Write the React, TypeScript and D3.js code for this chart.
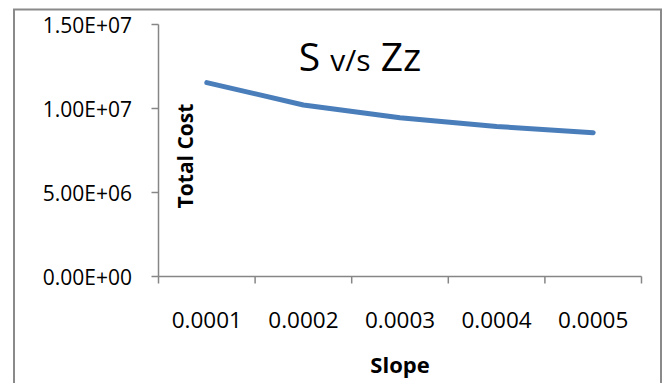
import React from "react";
import * as d3 from "d3";

const categories = ["0.0001", "0.0002", "0.0003", "0.0004", "0.0005"];
const totalCost = [1.154e7, 1.021e7, 9.45e6, 8.93e6, 8.56e6];
const yTicks = [0, 5e6, 1e7, 1.5e7];
const yTickLabels = ["0.00E+00", "5.00E+06", "1.00E+07", "1.50E+07"];

const W = 668;
const H = 383;
const FONT = "'Open Sans', 'Noto Sans', sans-serif";

export default function App() {
  const x = d3.scaleBand<string>().domain(categories).range([158.5, 641.5]).padding(0);
  const y = d3.scaleLinear().domain([0, 1.5e7]).range([276.5, 24.5]);
  const line = d3
    .line<number>()
    .x((_, i) => (x(categories[i]) as number) + x.bandwidth() / 2)
    .y((d) => y(d));
  const xEdges = [...categories.map((c) => x(c) as number), x.range()[1]];

  return (
    <svg
      width={W}
      height={H}
      style={{ position: "absolute", left: 0, top: 0, background: "#fff" }}
    >
      <rect x={14} y={9.5} width={647} height={420} fill="#fff" stroke="#8a8a8a" strokeWidth={2} />

      {/* y axis */}
      <line x1={158.5} x2={158.5} y1={y(1.5e7)} y2={y(0)} stroke="#868686" strokeWidth={1.5} />
      {yTicks.map((t, i) => (
        <g key={t}>
          <line x1={151.5} x2={158.5} y1={y(t)} y2={y(t)} stroke="#868686" strokeWidth={1.5} />
          <text x={132} y={y(t) + 8.5} textAnchor="end" fontFamily={FONT} fontSize={21} fill="#000">
            {yTickLabels[i]}
          </text>
        </g>
      ))}

      {/* x axis */}
      <line x1={158.5} x2={641.5} y1={y(0)} y2={y(0)} stroke="#868686" strokeWidth={1.5} />
      {xEdges.map((e, i) => (
        <line key={i} x1={e} x2={e} y1={y(0)} y2={y(0) + 7} stroke="#868686" strokeWidth={1.5} />
      ))}
      {categories.map((c) => (
        <text
          key={c}
          x={(x(c) as number) + x.bandwidth() / 2}
          y={328}
          textAnchor="middle"
          fontFamily={FONT}
          fontSize={22.5}
          fill="#000"
        >
          {c}
        </text>
      ))}

      {/* series */}
      <path
        d={line(totalCost) || ""}
        fill="none"
        stroke="#4a7ebb"
        strokeWidth={5}
        strokeLinecap="round"
        strokeLinejoin="round"
      />

      {/* title */}
      <text x={360} y={71} textAnchor="middle" fontFamily={FONT} fontSize={39} fill="#000">
        S <tspan fontSize={30}>v/s</tspan> Zz
      </text>

      {/* axis titles */}
      <text
        transform="translate(193,156) rotate(-90)"
        textAnchor="middle"
        fontFamily={FONT}
        fontWeight="bold"
        fontSize={21}
        fill="#000"
      >
        Total Cost
      </text>
      <text x={400} y={373} textAnchor="middle" fontFamily={FONT} fontWeight="bold" fontSize={22} fill="#000">
        Slope
      </text>
    </svg>
  );
}
